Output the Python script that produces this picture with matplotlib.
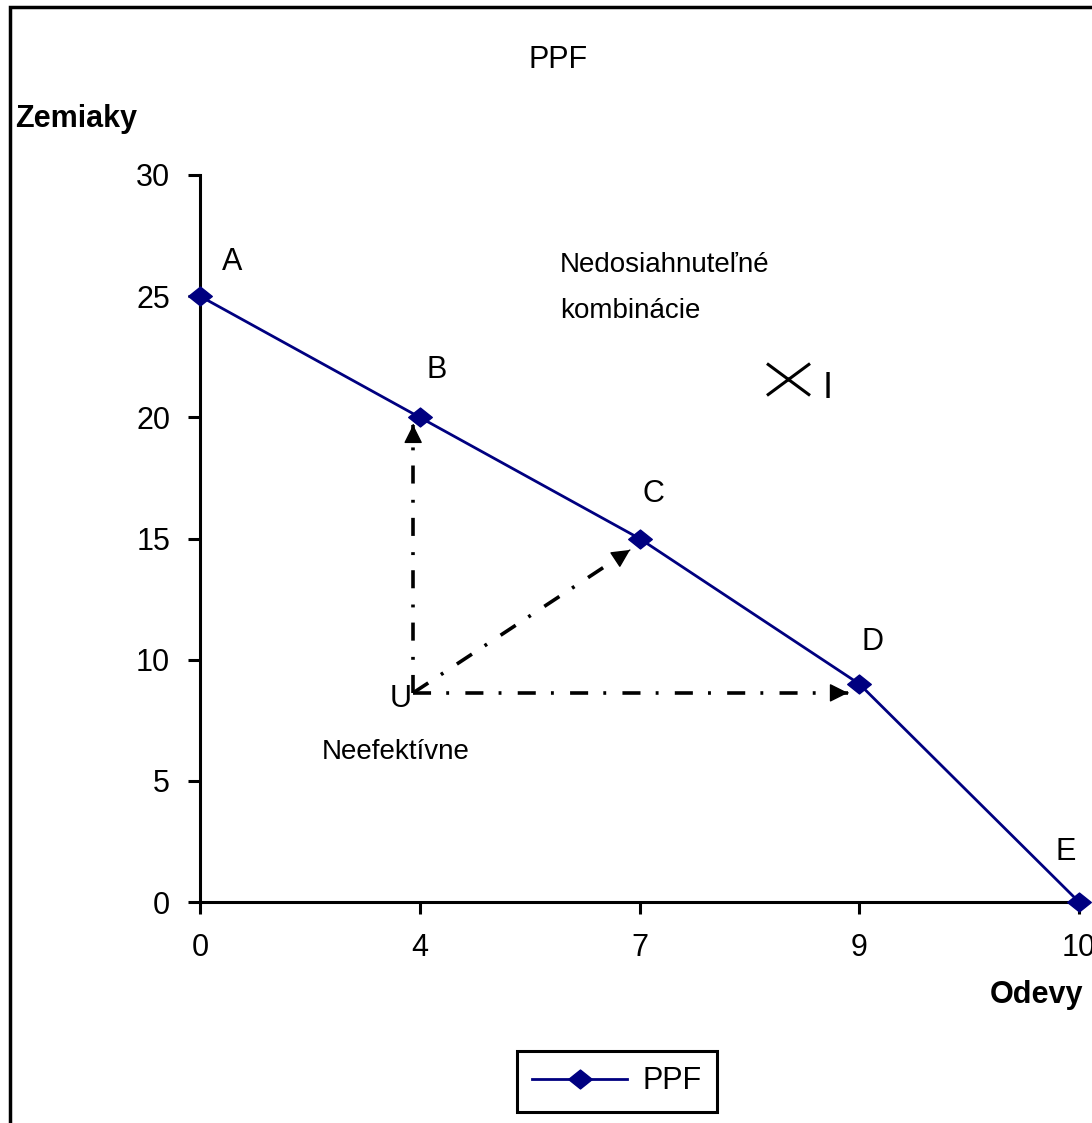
import matplotlib.pyplot as plt
from matplotlib.patches import Rectangle
from matplotlib.path import Path

plt.rcParams['font.family'] = ['Liberation Sans', 'DejaVu Sans']

# hodnoty z grafu
odevy = [0, 4, 7, 9, 10]
zemiaky = [25, 20, 15, 9, 0]
body = ['A', 'B', 'C', 'D', 'E']

# bod U a ciele sipok (v suradniciach kategorii)
u_bod = (0.97, 8.63)
ciele = [(0.97, 19.69), (1.957, 14.53), (2.949, 8.63)]
nedosiahnutelny = (2.677, 21.6)

diamant = Path([(-1.25, 0), (0, 1), (1.25, 0), (0, -1), (-1.25, 0)],
               [Path.MOVETO, Path.LINETO, Path.LINETO, Path.LINETO, Path.CLOSEPOLY])
kriz = Path([(-1.35, -1), (1.35, 1), (-1.35, 1), (1.35, -1)],
            [Path.MOVETO, Path.LINETO, Path.MOVETO, Path.LINETO])

fig = plt.figure(figsize=(10.92, 11.23), dpi=100)
ax = fig.add_axes([200/1092, 1-902/1123, 879/1092, 727/1123])

idx = list(range(len(odevy)))
ax.plot(idx, zemiaky, color='#000080', lw=2, marker=diamant, markersize=17,
        clip_on=False, label='PPF', zorder=5)

offs = [(32, 34), (17, 47), (14, 44), (13, 42), (-13, 50)]
for i, b in enumerate(body):
    ax.annotate(b, (idx[i], zemiaky[i]), xytext=offs[i], textcoords='offset pixels',
                ha='center', va='center', fontsize=22, annotation_clip=False)

pomlcka = (0, (5.0, 4.2, 0.8, 4.5))
for c in ciele:
    ax.plot([u_bod[0], c[0]], [u_bod[1], c[1]], color='black', lw=2.6, linestyle=pomlcka,
            dash_capstyle='butt')
    # hlavicka sipky
    zx = c[0] - (c[0] - u_bod[0]) * 0.001
    zy = c[1] - (c[1] - u_bod[1]) * 0.001
    ax.annotate('', xy=c, xytext=(zx, zy),
                arrowprops=dict(arrowstyle='-|>,head_length=0.5,head_width=0.25',
                                color='black', lw=1, mutation_scale=23,
                                shrinkA=0, shrinkB=0))

ax.plot(*nedosiahnutelny, marker=kriz, color='black', markersize=31, mew=2.2)
ax.annotate('I', nedosiahnutelny, xytext=(39, -10), textcoords='offset pixels',
            fontsize=26, ha='center', va='center')
ax.annotate('U', u_bod, xytext=(-13, -6), textcoords='offset pixels',
            fontsize=22, ha='center', va='center')
ax.text(0.555, 6.19, 'Neefektívne', fontsize=20, ha='left', va='center')
ax.text(1.638, 26.3, 'Nedosiahnuteľné', fontsize=20, ha='left', va='center')
ax.text(1.638, 24.4, 'kombinácie', fontsize=20, ha='left', va='center')

ax.set_xlim(0, 4)
ax.set_ylim(0, 30)
ax.set_xticks(idx)
ax.set_xticklabels([str(o) for o in odevy])
ax.set_yticks(range(0, 31, 5))
ax.tick_params(axis='both', labelsize=22, length=8.5, width=2.2, direction='out')
ax.tick_params(axis='y', pad=13)
ax.tick_params(axis='x', pad=14)
for s in ['top', 'right']:
    ax.spines[s].set_visible(False)
for s in ['left', 'bottom']:
    ax.spines[s].set_linewidth(2.2)

fig.text(558/1092, 1-60/1123, 'PPF', fontsize=22, ha='center', va='center')
fig.text(15/1092, 1-119/1123, 'Zemiaky', fontsize=22, fontweight='bold', ha='left', va='center')
fig.text(1083/1092, 1-995/1123, 'Odevy', fontsize=22, fontweight='bold', ha='right', va='center')

fig.patches.append(Rectangle((10/1092, -0.1), 1.2, 1-7/1123 + 0.1, transform=fig.transFigure,
                             fill=False, edgecolor='black', lw=2.5))

leg = fig.legend(loc='upper left', bbox_to_anchor=(517/1092, 1-1051/1123), fontsize=22,
                 fancybox=False, edgecolor='black', framealpha=1, handlelength=3.1,
                 handletextpad=0.5, borderpad=0.5, borderaxespad=0)
leg.get_frame().set_linewidth(2.2)

fig.savefig('out.png', dpi=100)
